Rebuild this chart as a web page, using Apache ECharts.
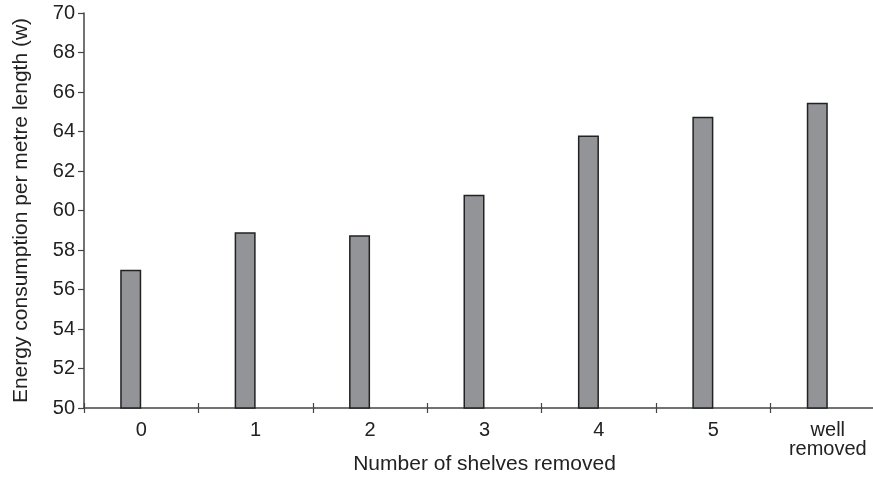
<!DOCTYPE html>
<html>
<head>
<meta charset="utf-8">
<script src="https://cdn.jsdelivr.net/npm/echarts@6/dist/echarts.min.js"></script>
<style>html,body{margin:0;padding:0;background:#fff}#c{width:873px;height:477px}</style>
</head>
<body>
<div id="c"></div>
<script>
var categories = ['0', '1', '2', '3', '4', '5', 'well\nremoved'];
var energyValues = [57.0, 58.9, 58.75, 60.8, 63.8, 64.75, 65.45];
var emptyValues = [null, null, null, null, null, null, null];
var yTicks = { min: 50, max: 70, interval: 2 };

var chart = echarts.init(document.getElementById('c'), null, { renderer: 'canvas' });
var font = 'Liberation Sans, Arial, sans-serif';
var txt = '#222';
chart.setOption({
  animation: false,
  backgroundColor: '#fff',
  grid: { left: 84, right: -12, top: 13, bottom: 69, containLabel: false, outerBoundsMode: 'none' },
  xAxis: [{
    type: 'category',
    data: categories,
    position: 'bottom',
    axisLine: { lineStyle: { color: '#444', width: 1.5 } },
    axisTick: { show: true, length: 5, lineStyle: { color: '#444', width: 1.2 } },
    axisLabel: { color: txt, fontSize: 20, fontFamily: font, margin: 13, lineHeight: 19 },
    name: 'Number of shelves removed',
    nameLocation: 'middle',
    nameGap: 46,
    nameMoveOverlap: false,
    nameTextStyle: { color: txt, fontSize: 21, fontFamily: font }
  }, {
    type: 'category',
    data: categories,
    position: 'bottom',
    axisLine: { show: false },
    axisTick: { show: true, inside: true, length: 5, lineStyle: { color: '#444', width: 1.2 } },
    axisLabel: { show: false }
  }],
  yAxis: {
    type: 'value',
    min: yTicks.min, max: yTicks.max, interval: yTicks.interval,
    splitLine: { show: false },
    axisLine: { show: true, lineStyle: { color: '#444', width: 1.5 } },
    axisTick: { show: true, length: 6, lineStyle: { color: '#444', width: 1.2 } },
    axisLabel: { color: txt, fontSize: 20, fontFamily: font, margin: 9 },
    name: 'Energy consumption per metre length (w)',
    nameLocation: 'middle',
    nameGap: 52,
    nameMoveOverlap: false,
    nameTextStyle: { color: txt, fontSize: 21, fontFamily: font }
  },
  series: [{
    type: 'bar',
    data: energyValues,
    barWidth: 21,
    barGap: '0%',
    itemStyle: { color: '#939498', borderColor: '#222', borderWidth: 1.5 }
  }, {
    type: 'bar',
    data: emptyValues,
    barWidth: 21,
    barGap: '0%'
  }]
});
</script>
</body>
</html>
